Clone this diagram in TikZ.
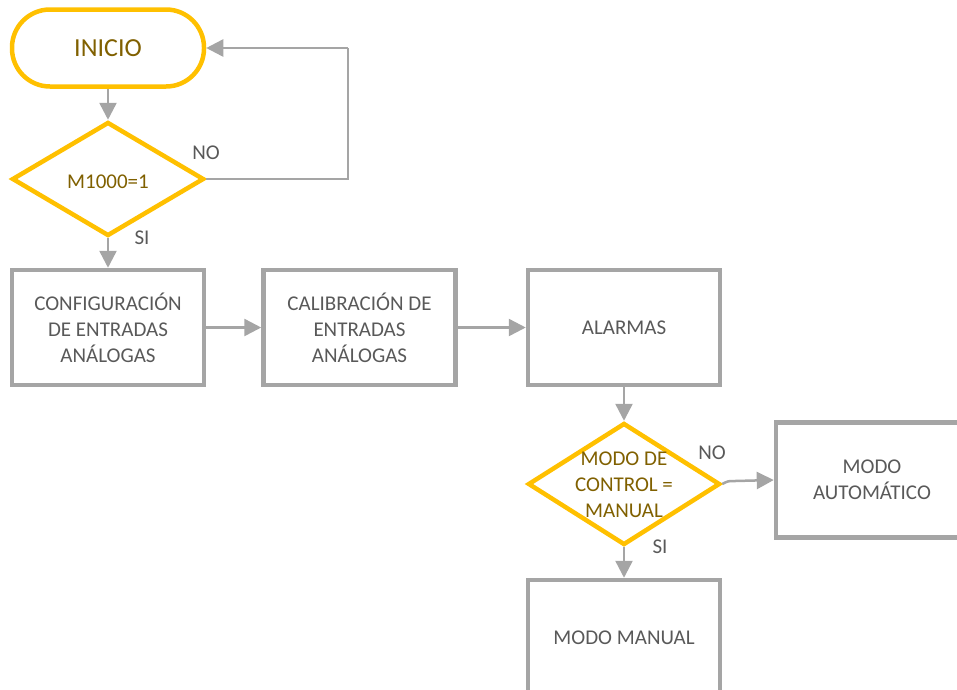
\documentclass[tikz,border=0pt]{standalone}
\usepackage{fontspec}
\setmainfont{Carlito}
\usetikzlibrary{arrows.meta,shapes.geometric}
\definecolor{amber}{HTML}{FFC000}
\definecolor{linegray}{HTML}{A5A5A5}
\definecolor{boxtext}{HTML}{595959}
\definecolor{goldtext}{HTML}{806000}
\begin{document}
\begin{tikzpicture}[x=1pt,y=-1pt,
  every node/.style={font=\fontsize{21}{26}\selectfont, align=center, inner sep=0pt},
  startbox/.style={draw=amber, line width=4.5pt, rounded corners=38pt, minimum width=192pt, minimum height=77pt, text=goldtext},
  decision/.style={draw=amber, line width=4.5pt, diamond, aspect=1.6, text=goldtext},
  procbox/.style={draw=linegray, line width=4.5pt, minimum width=192pt, minimum height=115pt, text=boxtext},
  flow/.style={draw=linegray, line width=2.5pt, -{Triangle[length=17pt,width=17pt]}},
  lbl/.style={text=boxtext}
]
\useasboundingbox (0,0) rectangle (957,689);

\node[startbox, font=\fontsize{26}{30}\selectfont] (inicio) at (108,48) {INICIO};
\node[decision, minimum width=192pt, minimum height=114pt] (m1000) at (108,179) {};
\node[text=goldtext] at (108,182) {M1000=1};

\node[procbox] (config) at (108,327.5) {CONFIGURACIÓN\\DE ENTRADAS\\ANÁLOGAS};
\node[procbox] (calib) at (359.5,327.5) {CALIBRACIÓN DE\\ENTRADAS\\ANÁLOGAS};
\node[procbox] (alarm) at (624,327.5) {ALARMAS};

\node[decision, minimum width=192pt, minimum height=122pt] (modo) at (624,484) {};
\node[text=goldtext] at (624,485) {MODO DE\\CONTROL =\\MANUAL};

\node[procbox] (auto) at (872,480) {MODO\\AUTOMÁTICO};
\node[procbox] (manual) at (624,637.5) {MODO MANUAL};

\coordinate (loopA) at (348,179);
\coordinate (loopB) at (348,48);

\draw[flow] (inicio.south) -- (m1000.north);
\draw[flow, -] (m1000.east) -- (loopA) -- (loopB);
\draw[flow] (loopB) -- (inicio.east);
\node[lbl] at (206,153) {NO};
\draw[flow] (m1000.south) -- (config.north);
\node[lbl] at (142,238) {SI};

\draw[flow] (config.east) -- (calib.west);
\draw[flow] (calib.east) -- (alarm.west);
\draw[flow] (alarm.south) -- (modo.north);

\draw[flow] (modo.east) .. controls (728,481) .. (735,481) -- (auto.west);
\node[lbl] at (712,453) {NO};
\draw[flow] (modo.south) -- (manual.north);
\node[lbl] at (660,547) {SI};
\end{tikzpicture}
\end{document}
